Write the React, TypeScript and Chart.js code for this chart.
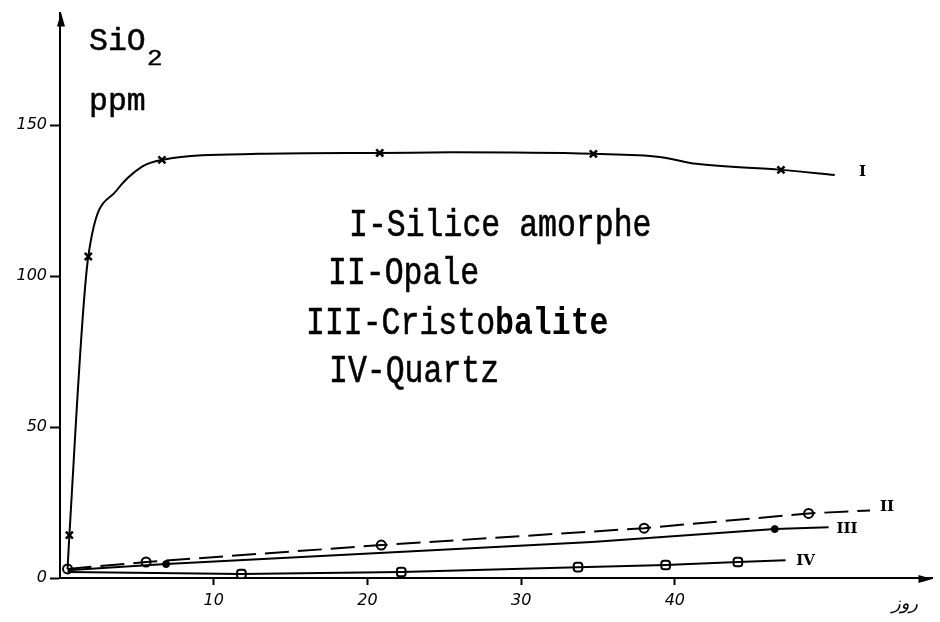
import { useEffect, useRef } from "react";
import { Chart, registerables } from "chart.js";

Chart.register(...registerables);

// Axis ticks
const yTickValues = [0, 50, 100, 150];
const xTickValues = [10, 20, 30, 40];

// Curve I – Silice amorphe (drawn path and measured points)
const curveIX = [0.49, 0.61, 1.84, 3.65, 5.34, 6.63, 12.9, 20.8, 25.5, 34.7, 39.0, 41.4, 46.9, 50.4];
const curveIY = [3.0, 14.2, 106.5, 128.2, 136.3, 138.5, 140.5, 140.8, 141.0, 140.5, 139.5, 137.2, 135.2, 133.5];
const pointsIX = [0.61, 1.84, 6.63, 20.8, 34.7, 46.9];
const pointsIY = [14.2, 106.5, 138.5, 140.8, 140.5, 135.2];

// Curve II – Opale
const curveIIX = [0.49, 5.6, 20.9, 38.0, 48.7, 52.7];
const curveIIY = [3.0, 5.3, 10.9, 16.5, 21.4, 22.4];
const pointsIIX = [0.49, 5.6, 20.9, 38.0, 48.7];
const pointsIIY = [3.0, 5.3, 10.9, 16.5, 21.4];

// Curve III – Cristobalite
const curveIIIX = [0.49, 6.9, 34.6, 46.5, 50.0];
const curveIIIY = [2.6, 4.6, 11.9, 16.2, 16.8];
const pointsIIIX = [0.49, 6.9, 46.5];
const pointsIIIY = [2.6, 4.6, 16.2];

// Curve IV – Quartz
const curveIVX = [0.49, 11.8, 22.2, 33.7, 39.4, 44.1, 47.2];
const curveIVY = [2.0, 1.3, 2.0, 3.6, 4.3, 5.3, 5.9];
const pointsIVX = [11.8, 22.2, 33.7, 39.4, 44.1];
const pointsIVY = [1.3, 2.0, 3.6, 4.3, 5.3];

// Curve end labels (data coordinates)
const curveNames = ["I", "II", "III", "IV"];
const curveLabelX = [52.2, 53.8, 51.2, 48.5];
const curveLabelY = [134.5, 23.4, 16.2, 5.6];

// Legend / annotation texts
const legendLines = ["I-Silice amorphe", "II-Opale", "III-Cristobalite", "IV-Quartz"];
const yTitleMain = "SiO";
const yTitleSub = "2";
const yUnit = "ppm";
const xTitle = "روز";

const zip = (xs: number[], ys: number[]) => xs.map((x, i) => ({ x, y: ys[i] }));

const MONO = '"Liberation Mono", "Courier New", monospace';

const annotations = {
  id: "annotations",
  afterDraw(chart: any) {
    const { ctx, chartArea, scales } = chart;
    const xs = scales.x;
    const ys = scales.y;
    ctx.save();
    ctx.fillStyle = "#000";
    ctx.strokeStyle = "#000";

    // axis arrows
    ctx.beginPath();
    ctx.moveTo(chartArea.left + 1, chartArea.top);
    ctx.lineTo(chartArea.left - 3, chartArea.top + 14);
    ctx.lineTo(chartArea.left + 5, chartArea.top + 14);
    ctx.closePath();
    ctx.fill();
    ctx.beginPath();
    ctx.moveTo(chartArea.right, chartArea.bottom + 1);
    ctx.lineTo(chartArea.right - 14, chartArea.bottom - 3);
    ctx.lineTo(chartArea.right - 14, chartArea.bottom + 5);
    ctx.closePath();
    ctx.fill();

    const mono = (size: number, bold = false) => `${bold ? "bold " : ""}${size}px ${MONO}`;

    const drawText = (t: string, x: number, y: number, font: string, sy: number, lw = 0.5) => {
      ctx.save();
      ctx.translate(x, y);
      ctx.scale(1, sy);
      ctx.font = font;
      ctx.textAlign = "left";
      ctx.textBaseline = "alphabetic";
      ctx.fillText(t, 0, 0);
      if (lw > 0) {
        ctx.lineWidth = lw;
        ctx.strokeText(t, 0, 0);
      }
      ctx.restore();
    };

    // y title
    drawText(yTitleMain, 89, 50, mono(31.5), 1.0);
    drawText(yTitleSub, 147, 65, mono(26), 0.85);
    drawText(yUnit, 89, 110, mono(31.5), 1.0);

    // legend
    const legendX = [349, 328, 306, 329];
    const legendY = [236, 284, 334, 382];
    legendLines.forEach((t, i) => {
      if (i === 2) {
        const a = t.slice(0, 10);
        const b = t.slice(10);
        ctx.font = mono(31.5);
        const w = ctx.measureText(a).width;
        drawText(a, legendX[i], legendY[i], mono(31.5), 1.22);
        drawText(b, legendX[i] + w, legendY[i], mono(31.5, true), 1.22, 0);
      } else {
        drawText(t, legendX[i], legendY[i], mono(31.5), 1.22);
      }
    });

    // curve labels
    ctx.font = 'bold 15px "DejaVu Serif", serif';
    ctx.textAlign = "center";
    ctx.textBaseline = "middle";
    curveNames.forEach((n, i) => {
      ctx.fillText(n, xs.getPixelForValue(curveLabelX[i]), ys.getPixelForValue(curveLabelY[i]));
    });

    // x title
    ctx.font = 'italic 18px "DejaVu Sans", sans-serif';
    ctx.textAlign = "center";
    ctx.textBaseline = "middle";
    ctx.fillText(xTitle, 905, 604);

    ctx.restore();
  },
};

export default function App() {
  const ref = useRef<HTMLCanvasElement | null>(null);

  useEffect(() => {
    document.body.style.margin = "0";
    const canvas = ref.current;
    if (!canvas) return;

    const lineDs = (xs: number[], ys: number[], extra: any = {}) => ({
      data: zip(xs, ys),
      showLine: true,
      borderColor: "#000",
      borderWidth: 2,
      pointRadius: 0,
      tension: 0,
      ...extra,
    });

    const chart = new Chart(canvas, {
      type: "scatter",
      data: {
        datasets: [
          lineDs(curveIX, curveIY, { cubicInterpolationMode: "monotone" }),
          lineDs(curveIIX, curveIIY, { borderDash: [24, 9] }),
          lineDs(curveIIIX, curveIIIY),
          lineDs(curveIVX, curveIVY),
          {
            data: zip(pointsIX, pointsIY),
            showLine: false,
            pointStyle: "crossRot",
            pointRadius: 5,
            pointBorderWidth: 2.5,
            pointBorderColor: "#000",
          },
          {
            data: zip(pointsIIX, pointsIIY),
            showLine: false,
            pointStyle: "circle",
            pointRadius: 4.5,
            pointBorderWidth: 2,
            pointBorderColor: "#000",
            pointBackgroundColor: "#fff",
          },
          {
            data: zip(pointsIIIX, pointsIIIY),
            showLine: false,
            pointStyle: "circle",
            pointRadius: 3.5,
            pointBorderWidth: 1,
            pointBorderColor: "#000",
            pointBackgroundColor: "#000",
          },
          {
            data: zip(pointsIVX, pointsIVY),
            showLine: false,
            pointStyle: "rectRounded",
            pointRadius: 5,
            pointBorderWidth: 2,
            pointBorderColor: "#000",
            pointBackgroundColor: "#fff",
          },
        ],
      },
      options: {
        animation: false,
        responsive: false,
        devicePixelRatio: 1,
        layout: { padding: { left: 0, top: 10, right: 2, bottom: 0 } },
        plugins: {
          legend: { display: false },
          tooltip: { enabled: false },
        },
        scales: {
          x: {
            type: "linear",
            min: 0,
            max: 56.76,
            afterFit: (s: any) => {
              s.height = 44;
            },
            afterBuildTicks: (s: any) => {
              s.ticks = xTickValues.map((v) => ({ value: v }));
            },
            border: { display: true, color: "#000", width: 2 },
            grid: {
              drawOnChartArea: false,
              drawTicks: true,
              tickLength: 7,
              tickWidth: 2,
              color: "#000",
            },
            ticks: {
              color: "#000",
              padding: 6,
              maxRotation: 0,
              font: { family: '"DejaVu Sans", sans-serif', size: 16, style: "italic" },
            },
          },
          y: {
            type: "linear",
            min: 0,
            max: 187.3,
            afterFit: (s: any) => {
              s.width = 60;
            },
            afterBuildTicks: (s: any) => {
              s.ticks = yTickValues.map((v) => ({ value: v }));
            },
            border: { display: true, color: "#000", width: 2 },
            grid: {
              drawOnChartArea: false,
              drawTicks: true,
              tickLength: 10,
              tickWidth: 2,
              color: "#000",
            },
            ticks: {
              color: "#000",
              padding: 3,
              font: { family: '"DejaVu Sans", sans-serif', size: 16, style: "italic" },
            },
          },
        },
      },
      plugins: [annotations],
    } as any);

    return () => {
      chart.destroy();
    };
  }, []);

  return (
    <div style={{ width: 940, height: 622, background: "#fff" }}>
      <canvas ref={ref} width={940} height={622} style={{ display: "block" }} />
    </div>
  );
}
